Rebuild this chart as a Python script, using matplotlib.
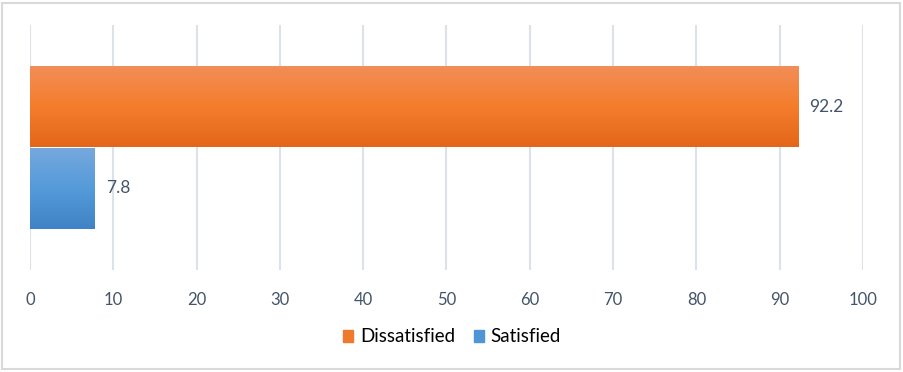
import numpy as np
import matplotlib.pyplot as plt
from matplotlib.colors import LinearSegmentedColormap
from matplotlib.patches import Rectangle

plt.rcParams['font.family'] = ['Lato', 'DejaVu Sans']

# ---------- data ----------
series = ["Dissatisfied", "Satisfied"]
values = [92.2, 7.8]
ypos = [0.5, -0.5]
xticks = [0, 10, 20, 30, 40, 50, 60, 70, 80, 90, 100]

# gradient stops (top -> bottom) for each series
grads = {
    "Dissatisfied": ["#f28e59", "#f47d2c", "#e4661a"],
    "Satisfied": ["#76a9de", "#559ad9", "#3f83c6"],
}
solid = {"Dissatisfied": "#ef7a2e", "Satisfied": "#5095d6"}
txt_color = "#44546a"

fig = plt.figure(figsize=(9.04, 3.72), dpi=100, facecolor="white")
ax = fig.add_axes([30 / 904, 1 - 270 / 372, 833 / 904, 245 / 372])

for name, v, y in zip(series, values, ypos):
    bar = ax.barh(y, v, height=1.0, color="none", edgecolor="none", zorder=2)[0]
    cmap = LinearSegmentedColormap.from_list(name, grads[name])
    grad = np.linspace(0, 1, 256).reshape(-1, 1)
    x0, y0 = bar.get_x(), bar.get_y()
    w, h = bar.get_width(), bar.get_height()
    im = ax.imshow(grad, cmap=cmap, aspect="auto",
                   extent=[x0, x0 + w, y0, y0 + h], origin="upper", zorder=2)
    im.set_clip_path(bar)
    ax.annotate(f"{v}", xy=(v, y), xytext=(8, 0), textcoords="offset points",
                va="center", ha="left", fontsize=12.5, color=txt_color)

ax.set_xlim(0, 100)
ax.set_ylim(-1.5, 1.5)
ax.set_xticks(xticks)
ax.set_yticks([])
ax.tick_params(axis="x", length=0, pad=16, labelsize=12, labelcolor=txt_color)
ax.grid(axis="x", color="#dde2e8", linewidth=1.5, zorder=0)
ax.set_axisbelow(True)
for s in ax.spines.values():
    s.set_visible(False)

# legend
handles = [Rectangle((0, 0), 1, 1, color=solid[n]) for n in series]
fig.legend(handles, series, loc="center", bbox_to_anchor=(0.5, 1 - 337 / 372),
           ncol=2, frameon=False, fontsize=13.5, handlelength=0.55, handleheight=0.55,
           handletextpad=0.35, columnspacing=1.0, labelcolor="black")

# figure border
fig.patches.append(Rectangle((2 / 904, 3 / 372), 898 / 904, 366 / 372,
                             transform=fig.transFigure, fill=False,
                             edgecolor="#d9d9d9", linewidth=1.5))

fig.savefig("out.png", dpi=100, facecolor="white")
